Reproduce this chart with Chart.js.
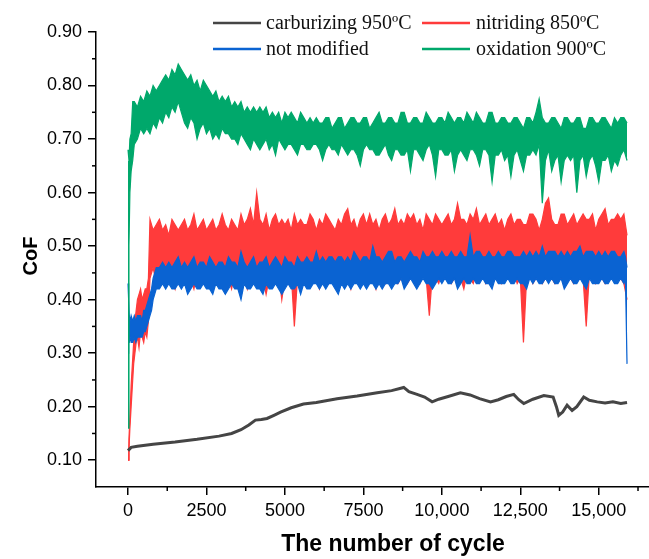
<!DOCTYPE html>
<html><head><meta charset="utf-8">
<script src="https://cdn.jsdelivr.net/npm/chart.js@4/dist/chart.umd.min.js"></script>
<style>html,body{margin:0;padding:0;background:#fff;}canvas{display:block;}</style>
</head><body>
<canvas id="c" width="649" height="559"></canvas>
<script>
// ---- Data ----
const seriesNames = ['carburizing 950ºC','nitriding 850ºC','not modified','oxidation 900ºC'];
const xTickValues = [0,2500,5000,7500,10000,12500,15000];
const xTickLabels = ['0','2500','5000','7500','10,000','12,500','15,000'];
const xMinorTicks = [1250,3750,6250,8750,11250,13750,16250];
const yTickValues = [0.10,0.20,0.30,0.40,0.50,0.60,0.70,0.80,0.90];
const yTickLabels = ['0.10','0.20','0.30','0.40','0.50','0.60','0.70','0.80','0.90'];
const yMinorTicks = [0.15,0.25,0.35,0.45,0.55,0.65,0.75,0.85];
const sampleStep = 100; // cycles between the sampled envelope values of the noisy records

// carburizing 950ºC (thin curve)
const carbX = [0,100,300,800,1500,2200,2900,3300,3600,3850,4060,4250,4430,4650,4860,5200,5590,6000,6660,7300,7940,8400,8785,8950,9210,9450,9690,9900,10200,10590,10900,11200,11550,11800,12050,12290,12450,12610,12900,13250,13545,13650,13725,13850,13990,14150,14300,14520,14700,14950,15200,15450,15700,15900];
const carbY = [0.118,0.124,0.126,0.130,0.134,0.139,0.145,0.150,0.157,0.166,0.175,0.176,0.178,0.184,0.190,0.198,0.205,0.208,0.215,0.220,0.226,0.230,0.236,0.228,0.223,0.218,0.209,0.214,0.219,0.226,0.222,0.215,0.209,0.213,0.219,0.223,0.213,0.206,0.214,0.221,0.218,0.200,0.184,0.190,0.203,0.193,0.200,0.218,0.212,0.209,0.207,0.209,0.206,0.208];

// nitriding 850ºC : upper / lower envelope of the noisy band
const nitrHeadX  = [0,30,60,100,140,180,220,260,300,350,400,450,500,550,600,650];
const nitrHeadHi = [0.10,0.14,0.18,0.24,0.28,0.32,0.36,0.38,0.40,0.41,0.42,0.40,0.41,0.42,0.42,0.44];
const nitrHeadLo = [0.10,0.12,0.16,0.20,0.24,0.28,0.30,0.32,0.33,0.31,0.34,0.33,0.32,0.34,0.33,0.36];
const nitrBodyStart = 700;
const nitrHi = [
0.55,0.53,0.54,0.55,0.53,0.54,0.52,0.55,0.54,0.53,
0.54,0.55,0.53,0.54,0.56,0.53,0.54,0.55,0.53,0.54,
0.55,0.53,0.54,0.56,0.54,0.53,0.55,0.54,0.53,0.56,
0.54,0.55,0.57,0.54,0.60,0.55,0.54,0.56,0.53,0.55,
0.56,0.54,0.55,0.54,0.55,0.53,0.56,0.54,0.55,0.54,
0.54,0.56,0.55,0.53,0.55,0.54,0.56,0.55,0.54,0.53,
0.55,0.54,0.56,0.57,0.54,0.55,0.53,0.55,0.56,0.54,
0.56,0.54,0.55,0.53,0.55,0.56,0.54,0.55,0.57,0.54,
0.55,0.54,0.56,0.55,0.56,0.54,0.55,0.53,0.56,0.55,
0.54,0.56,0.55,0.54,0.55,0.56,0.54,0.55,0.58,0.55,
0.55,0.54,0.56,0.55,0.57,0.54,0.55,0.56,0.54,0.55,
0.56,0.54,0.55,0.53,0.55,0.56,0.54,0.55,0.55,0.54,
0.54,0.56,0.56,0.55,0.53,0.55,0.58,0.59,0.55,0.54,
0.54,0.56,0.56,0.54,0.55,0.56,0.54,0.55,0.56,0.55,
0.55,0.56,0.53,0.55,0.56,0.57,0.54,0.55,0.55,0.56,
0.55,0.56,0.52];
const nitrLo = [
0.44,0.46,0.43,0.45,0.44,0.43,0.45,0.44,0.42,0.45,
0.44,0.43,0.45,0.44,0.42,0.45,0.44,0.43,0.44,0.45,
0.43,0.45,0.44,0.43,0.45,0.44,0.42,0.45,0.44,0.43,
0.44,0.42,0.45,0.44,0.43,0.45,0.44,0.41,0.44,0.43,
0.44,0.45,0.40,0.44,0.43,0.45,0.35,0.44,0.45,0.43,
0.44,0.43,0.45,0.44,0.42,0.44,0.45,0.43,0.44,0.45,
0.44,0.43,0.45,0.44,0.42,0.45,0.44,0.43,0.45,0.44,
0.45,0.44,0.42,0.45,0.44,0.43,0.45,0.44,0.45,0.43,
0.44,0.45,0.43,0.44,0.45,0.44,0.43,0.45,0.44,0.37,
0.45,0.44,0.43,0.45,0.44,0.45,0.43,0.44,0.45,0.44,
0.42,0.45,0.44,0.43,0.45,0.44,0.45,0.43,0.44,0.45,
0.44,0.45,0.43,0.44,0.45,0.44,0.45,0.43,0.44,0.32,
0.44,0.45,0.43,0.44,0.45,0.43,0.44,0.45,0.44,0.43,
0.45,0.44,0.43,0.45,0.44,0.43,0.45,0.44,0.44,0.35,
0.45,0.44,0.43,0.45,0.44,0.43,0.45,0.44,0.45,0.44,
0.44,0.43,0.40];

// not modified : upper / lower envelope
const baseHeadX  = [0,20,40,70,100,150,200,250,300,350,400,450,500,550,600,650,700,750,800,850,900];
const baseHeadHi = [0.43,0.40,0.37,0.36,0.37,0.36,0.37,0.36,0.37,0.37,0.37,0.36,0.38,0.38,0.39,0.40,0.41,0.42,0.44,0.45,0.46];
const baseHeadLo = [0.30,0.32,0.32,0.33,0.32,0.32,0.33,0.32,0.33,0.33,0.33,0.33,0.34,0.34,0.35,0.36,0.37,0.38,0.40,0.41,0.42];
const baseBodyStart = 1000;
const baseHi = [
0.46,0.47,0.46,0.47,0.46,0.47,0.48,0.46,0.47,0.46,
0.47,0.48,0.46,0.47,0.47,0.46,0.48,0.47,0.46,0.47,
0.47,0.46,0.48,0.47,0.47,0.46,0.49,0.47,0.46,0.47,
0.48,0.46,0.47,0.47,0.48,0.46,0.47,0.48,0.47,0.46,
0.48,0.47,0.47,0.46,0.48,0.47,0.47,0.48,0.47,0.47,
0.49,0.47,0.48,0.47,0.48,0.48,0.47,0.48,0.48,0.47,
0.48,0.47,0.49,0.48,0.47,0.48,0.48,0.47,0.50,0.48,
0.48,0.47,0.48,0.49,0.49,0.47,0.48,0.48,0.47,0.48,
0.49,0.48,0.48,0.47,0.49,0.48,0.48,0.49,0.48,0.48,
0.49,0.48,0.48,0.49,0.48,0.48,0.49,0.48,0.48,0.52,
0.48,0.49,0.49,0.48,0.48,0.49,0.48,0.48,0.49,0.48,
0.48,0.49,0.49,0.48,0.48,0.48,0.49,0.48,0.49,0.48,
0.49,0.48,0.50,0.48,0.49,0.49,0.49,0.48,0.49,0.48,
0.49,0.48,0.49,0.49,0.50,0.48,0.49,0.49,0.49,0.48,
0.49,0.48,0.49,0.48,0.49,0.49,0.48,0.48,0.49];
const baseLo = [
0.42,0.43,0.42,0.43,0.42,0.42,0.43,0.42,0.43,0.41,
0.42,0.43,0.42,0.42,0.43,0.42,0.42,0.41,0.43,0.42,
0.42,0.41,0.42,0.43,0.42,0.42,0.40,0.43,0.42,0.42,
0.43,0.42,0.42,0.41,0.43,0.42,0.42,0.43,0.42,0.41,
0.42,0.43,0.42,0.42,0.43,0.41,0.43,0.42,0.42,0.43,
0.43,0.42,0.43,0.42,0.43,0.43,0.42,0.41,0.43,0.42,
0.43,0.42,0.43,0.43,0.42,0.43,0.42,0.43,0.43,0.42,
0.43,0.42,0.43,0.43,0.42,0.43,0.43,0.44,0.42,0.43,
0.44,0.43,0.42,0.43,0.44,0.43,0.43,0.42,0.43,0.44,
0.43,0.44,0.43,0.43,0.44,0.42,0.43,0.44,0.43,0.43,
0.44,0.43,0.43,0.44,0.43,0.43,0.42,0.44,0.43,0.43,
0.43,0.44,0.43,0.43,0.44,0.43,0.43,0.42,0.44,0.43,
0.44,0.43,0.43,0.44,0.43,0.44,0.43,0.43,0.44,0.42,
0.43,0.44,0.43,0.43,0.44,0.43,0.42,0.44,0.43,0.43,
0.43,0.44,0.43,0.43,0.44,0.43,0.43,0.44,0.43];
const baseTailX  = [15850,15900];
const baseTailHi = [0.48,0.46];
const baseTailLo = [0.44,0.28];

// oxidation 900ºC : upper / lower envelope
const oxHeadX  = [0,30,60,100,150];
const oxHeadHi = [0.68,0.66,0.70,0.71,0.77];
const oxHeadLo = [0.16,0.50,0.60,0.64,0.66];
const oxBodyStart = 200;
const oxHi = [
0.77,0.76,0.78,0.77,0.79,0.78,0.80,0.79,0.80,0.81,
0.82,0.81,0.83,0.82,0.84,0.83,0.82,0.81,0.82,0.80,
0.81,0.79,0.81,0.80,0.79,0.78,0.79,0.77,0.78,0.77,
0.78,0.76,0.77,0.76,0.77,0.75,0.76,0.75,0.76,0.75,
0.76,0.75,0.76,0.74,0.75,0.74,0.75,0.73,0.75,0.74,
0.75,0.74,0.73,0.75,0.74,0.73,0.74,0.73,0.74,0.73,
0.73,0.74,0.74,0.72,0.73,0.74,0.74,0.72,0.73,0.74,
0.74,0.73,0.73,0.74,0.74,0.72,0.73,0.74,0.75,0.73,
0.73,0.74,0.74,0.73,0.73,0.75,0.75,0.73,0.73,0.74,
0.74,0.73,0.73,0.75,0.74,0.73,0.73,0.74,0.74,0.73,
0.75,0.74,0.73,0.74,0.74,0.73,0.75,0.74,0.73,0.75,
0.74,0.73,0.73,0.75,0.75,0.73,0.73,0.74,0.74,0.73,
0.73,0.74,0.74,0.73,0.72,0.74,0.74,0.73,0.75,0.775,
0.74,0.73,0.73,0.74,0.74,0.73,0.72,0.74,0.74,0.73,
0.73,0.74,0.74,0.72,0.72,0.74,0.74,0.73,0.73,0.74,
0.74,0.73,0.72,0.74,0.73,0.74,0.74,0.73];
const oxLo = [
0.69,0.70,0.72,0.71,0.72,0.71,0.73,0.72,0.74,0.73,
0.75,0.74,0.76,0.75,0.77,0.75,0.73,0.72,0.74,0.73,
0.70,0.72,0.73,0.71,0.72,0.70,0.71,0.70,0.72,0.71,
0.71,0.70,0.70,0.69,0.71,0.70,0.69,0.68,0.70,0.69,
0.68,0.69,0.70,0.68,0.69,0.67,0.70,0.69,0.68,0.69,
0.69,0.68,0.67,0.69,0.69,0.68,0.68,0.69,0.69,0.68,
0.66,0.68,0.69,0.68,0.68,0.67,0.69,0.68,0.67,0.68,
0.68,0.67,0.65,0.68,0.69,0.68,0.68,0.67,0.67,0.68,
0.69,0.67,0.66,0.68,0.68,0.67,0.67,0.68,0.64,0.68,
0.68,0.67,0.66,0.68,0.69,0.67,0.63,0.68,0.68,0.67,
0.67,0.68,0.64,0.67,0.68,0.67,0.66,0.68,0.68,0.67,
0.65,0.68,0.68,0.67,0.62,0.67,0.67,0.68,0.66,0.67,
0.63,0.67,0.68,0.66,0.64,0.67,0.67,0.68,0.67,0.69,
0.58,0.66,0.68,0.64,0.66,0.67,0.62,0.66,0.67,0.66,
0.67,0.60,0.66,0.67,0.63,0.66,0.67,0.65,0.62,0.66,
0.66,0.67,0.64,0.66,0.65,0.67,0.68,0.66];

const colors = ['#454545','#ff3b3b','#0a63d2','#00a86b'];

// ---- build point lists ----
function pts(hx, hy, start, body, tx, ty) {
  const out = [];
  hx.forEach((x,i)=>out.push({x, y: hy[i]}));
  if (body) body.forEach((y,i)=>out.push({x: start + i*sampleStep, y}));
  if (tx) tx.forEach((x,i)=>out.push({x, y: ty[i]}));
  return out;
}
const carbData   = pts(carbX, carbY);
const nitrHiData = pts(nitrHeadX, nitrHeadHi, nitrBodyStart, nitrHi);
const nitrLoData = pts(nitrHeadX, nitrHeadLo, nitrBodyStart, nitrLo);
const baseHiData = pts(baseHeadX, baseHeadHi, baseBodyStart, baseHi, baseTailX, baseTailHi);
const baseLoData = pts(baseHeadX, baseHeadLo, baseBodyStart, baseLo, baseTailX, baseTailLo);
const oxHiData   = pts(oxHeadX, oxHeadHi, oxBodyStart, oxHi);
const oxLoData   = pts(oxHeadX, oxHeadLo, oxBodyStart, oxLo);

const AREA = {left:96, top:32, bottom:487};

const extras = {
  id:'extras',
  afterDraw(chart){
    const ctx = chart.ctx, xs = chart.scales.x, ys = chart.scales.y;
    ctx.save();
    ctx.strokeStyle = '#000'; ctx.lineWidth = 1.5;
    xMinorTicks.forEach(v=>{ const p = xs.getPixelForValue(v); if (p>chart.width) return;
      ctx.beginPath(); ctx.moveTo(p, xs.top); ctx.lineTo(p, xs.top+4); ctx.stroke(); });
    yMinorTicks.forEach(v=>{ const p = ys.getPixelForValue(v);
      ctx.beginPath(); ctx.moveTo(ys.right, p); ctx.lineTo(ys.right-4, p); ctx.stroke(); });
    ctx.fillStyle = '#000';
    ctx.font = 'bold 23px "Liberation Sans", Arial, sans-serif';
    ctx.textAlign = 'center'; ctx.textBaseline = 'middle';
    ctx.fillText('The number of cycle', 393, 545);
    ctx.save();
    ctx.translate(31, 256); ctx.rotate(-Math.PI/2);
    ctx.font = 'bold 20px "Liberation Sans", Arial, sans-serif';
    ctx.fillText('CoF', 0, 0);
    ctx.restore();
    const items = [
      {i:0, lx:213, tx:266, y:23},
      {i:1, lx:422, tx:476, y:23},
      {i:2, lx:213, tx:266, y:49},
      {i:3, lx:422, tx:476, y:49}
    ];
    ctx.font = '20px "Liberation Serif", "Times New Roman", serif';
    ctx.textAlign = 'left';
    items.forEach(it=>{
      ctx.strokeStyle = colors[it.i]; ctx.lineWidth = 2.5;
      ctx.beginPath(); ctx.moveTo(it.lx, it.y); ctx.lineTo(it.lx+48, it.y); ctx.stroke();
      ctx.fillStyle = '#111';
      ctx.fillText(seriesNames[it.i], it.tx, it.y+1);
    });
    ctx.restore();
  }
};

const ds = (label, data, color, order, lw, fill) => ({
  label, data, borderColor: color, backgroundColor: color, borderWidth: lw,
  pointRadius: 0, tension: 0, fill: fill === undefined ? false : fill, order
});

new Chart(document.getElementById('c'), {
  type: 'line',
  data: { datasets: [
    ds(seriesNames[0], carbData, colors[0], 0, 3),            // 0
    ds(seriesNames[1], nitrHiData, colors[1], 6, 1.2),        // 1
    ds(seriesNames[1], nitrLoData, colors[1], 5, 1.2, 1),     // 2
    ds(seriesNames[2], baseHiData, colors[2], 4, 1.2),        // 3
    ds(seriesNames[2], baseLoData, colors[2], 3, 1.2, 3),     // 4
    ds(seriesNames[3], oxHiData, colors[3], 2, 1.2),          // 5
    ds(seriesNames[3], oxLoData, colors[3], 1, 1.2, 5)        // 6
  ]},
  options: {
    responsive: false, animation: false,
    layout: { padding: { top: AREA.top, left: 0, right: 0, bottom: 0 } },
    plugins: { legend: { display: false }, tooltip: { enabled: false }, filler: { propagate: false } },
    scales: {
      x: {
        type: 'linear', min: -1020, max: 16600,
        afterBuildTicks: s => { s.ticks = xTickValues.map(v=>({value:v})); },
        afterFit: s => { s.height = 559 - AREA.bottom; },
        ticks: { callback: (v,i) => xTickLabels[i], autoSkip: false, maxRotation: 0, padding: 5,
                 color: '#000', font: { family: '"Liberation Sans", Arial, sans-serif', size: 18 } },
        grid: { drawOnChartArea: false, drawTicks: true, tickLength: 8, color: '#000', lineWidth: 1.5 },
        border: { display: true, color: '#000', width: 1.5 }
      },
      y: {
        type: 'linear', min: 0.05, max: 0.90,
        afterBuildTicks: s => { s.ticks = yTickValues.map(v=>({value:v})); },
        afterFit: s => { s.width = AREA.left; },
        ticks: { callback: (v,i) => yTickLabels[i], autoSkip: false, padding: 6,
                 color: '#000', font: { family: '"Liberation Sans", Arial, sans-serif', size: 18 } },
        grid: { drawOnChartArea: false, drawTicks: true, tickLength: 8, color: '#000', lineWidth: 1.5 },
        border: { display: true, color: '#000', width: 1.5 }
      }
    }
  },
  plugins: [extras]
});
</script>
</body></html>
